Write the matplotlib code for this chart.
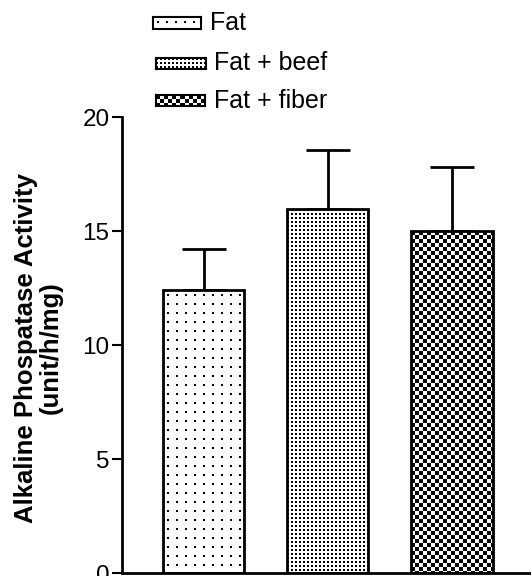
import numpy as np
import matplotlib.pyplot as plt

plt.rcParams['font.family'] = ['Liberation Sans', 'DejaVu Sans']

# data
groups = ['Fat', 'Fat + beef', 'Fat + fiber']
means = [12.4, 15.95, 15.0]
sem = [1.8, 2.6, 2.8]
patterns = ['sparse', 'dense', 'check']
yticks = [0, 5, 10, 15, 20]


def texture(kind, w, h):
    # black/white fill pattern, one array cell per pixel
    yy, xx = np.mgrid[0:h, 0:w]
    if kind == 'sparse':
        ink = (xx % 9 >= 4) & (xx % 9 < 6) & (yy % 9 >= 4) & (yy % 9 < 6)
    elif kind == 'dense':
        ink = (xx % 4 < 2) & (yy % 4 < 2)
    else:
        ink = ((xx // 4) + (yy // 4)) % 2 == 0
    return np.where(ink, 0.0, 1.0)


W, H = 531, 576
fig = plt.figure(figsize=(W / 100, H / 100), dpi=100)
ax = fig.add_axes([122 / W, 3 / H, 1 - 122 / W, (573 - 117) / H])

x = np.arange(len(groups))
width = 0.66
ax.set_xlim(-0.657, 2.64)
ax.set_ylim(0, 20)

bars = ax.bar(x, means, width, facecolor='none', edgecolor='black', linewidth=2, zorder=3)
ax.errorbar(x, means, yerr=[np.zeros(len(sem)), sem], fmt='none', ecolor='black',
            elinewidth=2, capsize=15.5, capthick=2, zorder=1)

# fill the bars with the pixel textures
for b, kind in zip(bars, patterns):
    x0, y0 = b.get_x(), b.get_y()
    x1, y1 = x0 + b.get_width(), y0 + b.get_height()
    p0 = ax.transData.transform((x0, y0))
    p1 = ax.transData.transform((x1, y1))
    w_px = int(round(p1[0] - p0[0]))
    h_px = int(round(p1[1] - p0[1]))
    ax.imshow(texture(kind, w_px, h_px), cmap='gray', vmin=0, vmax=1,
              interpolation='nearest', extent=(x0, x1, y0, y1), aspect='auto', zorder=2)

ax.set_xlim(-0.657, 2.64)
ax.set_ylim(0, 20)
ax.set_yticks(yticks)
ax.set_xticks([])
ax.tick_params(axis='y', length=7, width=1.5, labelsize=17.5, pad=2)
ax.spines['top'].set_visible(False)
ax.spines['right'].set_visible(False)
ax.spines['left'].set_linewidth(2)
ax.spines['bottom'].set_linewidth(2)

fig.text(38 / W, 1 - 348 / H, 'Alkaline Phospatase Activity\n(unit/h/mg)',
         rotation=90, ha='center', va='center', fontsize=18.5, fontweight='bold',
         multialignment='center', linespacing=1.05)

# legend drawn by hand, swatches use the same textures
swatches = [(153, 17, 48, 12), (156, 58, 50, 11), (156, 95, 49, 11)]
text_x = [210, 214, 214]
for (sx, sy, sw, sh), kind, label, tx in zip(swatches, patterns, groups, text_x):
    sax = fig.add_axes([sx / W, 1 - (sy + sh) / H, sw / W, sh / H])
    sax.imshow(texture(kind, sw, sh), cmap='gray', vmin=0, vmax=1,
               interpolation='nearest', aspect='auto')
    sax.set_xticks([])
    sax.set_yticks([])
    for s in sax.spines.values():
        s.set_linewidth(1.5)
    fig.text(tx / W, 1 - (sy + sh / 2) / H, label, ha='left', va='center', fontsize=18)

fig.savefig('out.png', dpi=100)
